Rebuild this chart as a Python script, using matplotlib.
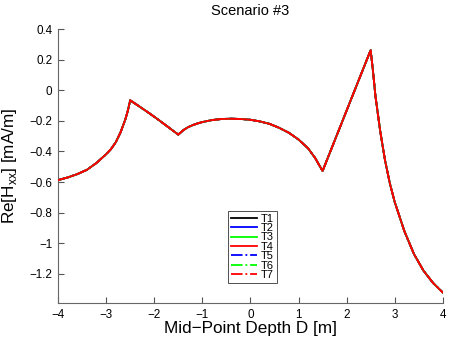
import matplotlib
matplotlib.use("Agg")
from matplotlib import pyplot as plt

plt.rcParams["font.family"] = ["Liberation Sans", "DejaVu Sans"]

# depth positions and the read-off response (all seven traces overlap)
depth = [-4.0, -3.8, -3.6, -3.4, -3.2, -3.0, -2.9, -2.8, -2.7, -2.6, -2.55, -2.5,
         -2.3, -2.1, -1.9, -1.7, -1.5, -1.4, -1.3, -1.2, -1.1, -1.0, -0.8, -0.6,
         -0.4, -0.2, 0.0, 0.2, 0.4, 0.6, 0.8, 1.0, 1.2, 1.35, 1.5,
         1.7, 1.9, 2.1, 2.3, 2.5, 2.55, 2.6, 2.7, 2.8, 2.9, 3.0, 3.2, 3.4,
         3.6, 3.8, 4.0]
re_hxx = [-0.587, -0.570, -0.548, -0.520, -0.475, -0.418, -0.385, -0.340, -0.275,
          -0.190, -0.135, -0.066,
          -0.108, -0.151, -0.196, -0.243, -0.290, -0.262, -0.242, -0.228, -0.217,
          -0.208, -0.195, -0.188, -0.186, -0.188, -0.193, -0.204, -0.220, -0.246,
          -0.278, -0.322, -0.380, -0.445, -0.528,
          -0.370, -0.212, -0.054, 0.104, 0.262, 0.12, -0.04, -0.27, -0.46,
          -0.61, -0.73, -0.92, -1.07, -1.18, -1.26, -1.322]

labels = ["T1", "T2", "T3", "T4", "T5", "T6", "T7"]
colors = ["k", "b", "#00ff00", "r", "b", "#00ff00", "r"]
styles = ["-", "-", "-", "-", "-.", "-.", "-."]

fig = plt.figure(figsize=(4.5, 3.38), dpi=100)
ax = fig.add_axes([0.129, 0.1036, 0.855, 0.8106])

for lab, col, sty in zip(labels, colors, styles):
    z = 5 if lab == "T4" else 2
    ax.plot(depth, re_hxx, color=col, linestyle=sty, linewidth=1.3, label=lab,
            zorder=z)

ax.set_xlim(-4, 4)
ax.set_ylim(-1.39, 0.4)
ax.set_xticks(range(-4, 5))
ax.set_yticks([-1.2, -1.0, -0.8, -0.6, -0.4, -0.2, 0, 0.2, 0.4])
ax.set_yticklabels(["\u22121.2", "\u22121", "\u22120.8", "\u22120.6", "\u22120.4",
                    "\u22120.2", "0", "0.2", "0.4"])
ax.set_xticklabels(["\u22124", "\u22123", "\u22122", "\u22121", "0", "1", "2", "3", "4"])
ax.tick_params(direction="in", length=4, labelsize=8.4, color="#555555",
               labelcolor="black", pad=4)
for side in ["top", "right"]:
    ax.spines[side].set_visible(False)
for side in ["left", "bottom"]:
    ax.spines[side].set_color("#666666")
    ax.spines[side].set_linewidth(0.8)

ax.set_title("Scenario #3", fontsize=10.5, pad=10)
ax.set_xlabel("Mid\u2212Point Depth D [m]", fontsize=12.3, labelpad=0)
ax.set_ylabel("Re[H$_{\\mathregular{xx}}$] [mA/m]", fontsize=12.3)
ax.yaxis.set_label_coords(-0.102, 0.5)

leg = ax.legend(loc="lower left", bbox_to_anchor=(0.4416, 0.073), fontsize=8,
                frameon=True, fancybox=False, handlelength=2.4, labelspacing=-0.05,
                handletextpad=0.3, borderpad=0.25, borderaxespad=0)
leg.get_frame().set_edgecolor("black")
leg.get_frame().set_linewidth(0.6)

fig.savefig("out.png", dpi=100)
